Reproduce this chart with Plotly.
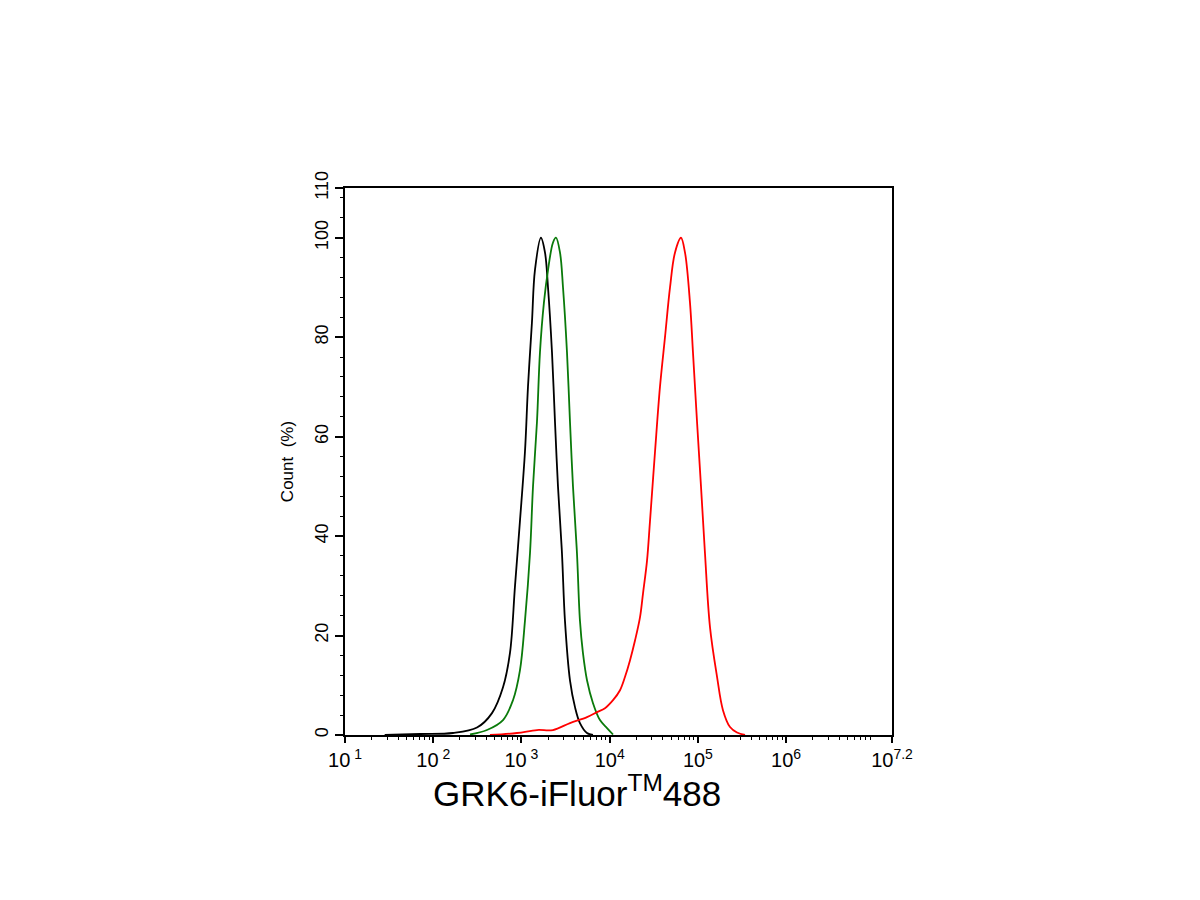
import numpy as np
import plotly.graph_objects as go

# log10 intensity positions and count (%)
black_log = [1.45, 1.85, 2.224, 2.496, 2.666, 2.791, 2.870, 2.927, 2.983, 3.040, 3.074, 3.119,
             3.153, 3.221, 3.267, 3.301, 3.346, 3.380, 3.414, 3.459, 3.493, 3.550, 3.607, 3.663,
             3.743, 3.811]
black_cnt = [0.0, 0.2, 0.4, 1.5, 4.4, 9.6, 16.5, 30, 43, 57, 70, 83,
             93.5, 100, 97, 90, 77, 63, 50, 36.6, 23, 11, 5.6, 2.4,
             0.4, 0.0]

green_log = [2.417, 2.609, 2.791, 2.904, 2.983, 3.040, 3.097, 3.131, 3.176, 3.210, 3.255, 3.301,
             3.357, 3.391, 3.437, 3.471, 3.516, 3.550, 3.584, 3.629, 3.663, 3.697, 3.743, 3.811,
             3.890, 3.970, 4.038]
green_cnt = [0.1, 1.0, 3.0, 7.0, 13, 23, 36.6, 50, 63, 77, 87, 93.5,
             99, 100, 97, 90, 77, 63, 50, 36.6, 23, 16.5, 11, 6.4,
             3.0, 1.4, 0.1]

red_log = [2.643, 2.949, 3.176, 3.357, 3.550, 3.743, 3.856, 3.947, 4.038, 4.117, 4.174, 4.230,
           4.287, 4.344, 4.378, 4.423, 4.457, 4.514, 4.570, 4.627, 4.684, 4.740, 4.808, 4.854,
           4.910, 4.944, 4.990, 5.035, 5.080, 5.137, 5.217, 5.284, 5.364, 5.443, 5.534]
red_cnt = [0.0, 0.4, 1.0, 1.0, 2.4, 3.6, 4.6, 5.4, 7.0, 9.0, 11.7, 15,
           19, 23.7, 28.5, 35, 43, 57, 70, 80, 90, 97, 100, 97,
           87, 77, 63, 50, 36.6, 21.7, 11.7, 5.0, 1.6, 0.5, 0.0]

x_tick_exp = [1, 2, 3, 4, 5, 6, 7.2]
x_tick_text = ["10<sup> 1</sup>", "10<sup> 2</sup>", "10<sup> 3</sup>", "10<sup>4</sup>",
               "10<sup>5</sup>", "10<sup>6</sup>", "10<sup>7.2</sup>"]
y_ticks = [0, 20, 40, 60, 80, 100, 110]

fig = go.Figure()
for xs, ys, col in [(black_log, black_cnt, "#000000"),
                    (green_log, green_cnt, "#0a7a0a"),
                    (red_log, red_cnt, "#ff0000")]:
    fig.add_trace(go.Scatter(x=10 ** np.array(xs), y=ys, mode="lines",
                             line=dict(color=col, width=1.8, shape="spline", smoothing=1.0),
                             showlegend=False))

minor_x = [k * 10 ** n for n in range(1, 8) for k in range(2, 10) if k * 10 ** n < 10 ** 7.2]

fig.update_layout(
    width=1200, height=900,
    margin=dict(l=337, r=316, t=180, b=173),
    paper_bgcolor="white", plot_bgcolor="white",
    font=dict(family="Liberation Sans, Arial, sans-serif", color="black"),
    xaxis=dict(
        type="log", range=[1, 7.2],
        tickmode="array", tickvals=[10 ** e for e in x_tick_exp], ticktext=x_tick_text,
        ticks="outside", ticklen=6, tickwidth=1.5, tickcolor="black",
        minor=dict(tickmode="array", tickvals=minor_x, ticks="outside", ticklen=3,
                   tickwidth=1, tickcolor="black"),
        showline=True, linecolor="black", linewidth=2, mirror=True,
        showgrid=False, zeroline=False,
        tickfont=dict(size=20),
    ),
    yaxis=dict(
        range=[0, 110],
        tickmode="array", tickvals=y_ticks,
        ticks="outside", ticklen=8, tickwidth=1.5, tickcolor="black",
        minor=dict(dtick=4, tick0=0, ticks="outside", ticklen=3, tickwidth=1,
                   tickcolor="black"),
        showline=True, linecolor="black", linewidth=2, mirror=True,
        showgrid=False, zeroline=False,
        tickangle=-90, tickfont=dict(size=18),
        title=dict(text="Count  (%)", font=dict(size=17), standoff=14),
    ),
    annotations=[dict(
        text="GRK6-iFluor<sup>TM</sup>488", xref="paper", yref="paper",
        x=0.424, y=-0.058, xanchor="center", yanchor="top", showarrow=False,
        font=dict(size=35),
    )],
)

fig.write_html("out.html")
